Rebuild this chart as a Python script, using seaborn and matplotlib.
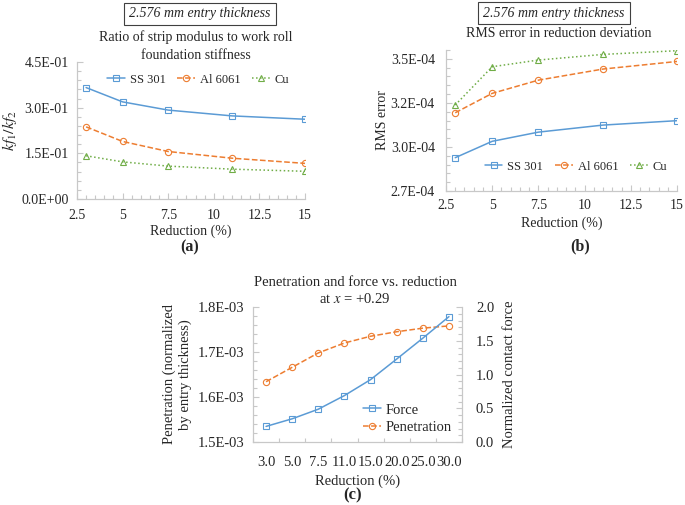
import numpy as np
import pandas as pd
import matplotlib.pyplot as plt
import seaborn as sns
from matplotlib.ticker import AutoMinorLocator, MultipleLocator, FormatStrFormatter, FixedLocator

# Data
reduction = [3, 5, 7.5, 11, 15]
ratio_ss301 = [0.366, 0.319, 0.292, 0.273, 0.262]
ratio_al6061 = [0.237, 0.189, 0.156, 0.134, 0.117]
ratio_cu = [0.142, 0.122, 0.108, 0.098, 0.091]

rms_ss301 = [2.939e-4, 3.032e-4, 3.084e-4, 3.124e-4, 3.149e-4]
rms_al6061 = [3.194e-4, 3.304e-4, 3.379e-4, 3.442e-4, 3.485e-4]
rms_cu = [3.238e-4, 3.455e-4, 3.493e-4, 3.525e-4, 3.546e-4]
rms_ticks = [2.75e-4, 3.0e-4, 3.25e-4, 3.5e-4]
rms_ticklabels = ["2.7E-04", "3.0E-04", "3.2E-04", "3.5E-04"]

reduction_c = ["3.0", "5.0", "7.5", "11.0", "15.0", "20.0", "25.0", "30.0"]
penetration = [1.634e-3, 1.666e-3, 1.698e-3, 1.720e-3, 1.735e-3, 1.745e-3, 1.753e-3, 1.758e-3]
force = [0.231, 0.344, 0.486, 0.688, 0.924, 1.229, 1.538, 1.857]

materials = ["SS 301", "Al 6061", "Cu"]
colors = ["#5B9BD5", "#ED7D31", "#70AD47"]
markers = ["s", "o", "^"]
dashes = ["-", "--", ":"]

sns.set_theme(style="ticks")
plt.rcParams["font.family"] = ["Liberation Serif", "DejaVu Serif"]
plt.rcParams["mathtext.fontset"] = "stix"
plt.rcParams["font.size"] = 10

W, H = 685, 505
FS = 10      # panels (a) and (b)
FSC = 10.5   # panel (c) is pasted a bit larger


def rect(l, t, r, b):
    return [l / W, 1 - b / H, (r - l) / W, (b - t) / H]


def ftext(x, y, s, **kw):
    fig.text(x / W, 1 - y / H, s, ha="center", va="center", **kw)


def style_ax(ax, spines=("left", "bottom"), fs=FS):
    for side in ["left", "right", "top", "bottom"]:
        ax.spines[side].set_visible(side in spines)
        ax.spines[side].set_color("#C8C8C8")
        ax.spines[side].set_linewidth(0.9)
    ax.tick_params(which="both", direction="in", color="#C8C8C8", labelsize=fs,
                   labelcolor="#262626", width=0.8)
    ax.tick_params(which="major", length=4, pad=8)
    ax.tick_params(which="minor", length=3)
    ax.grid(False)


def draw(ax, x, ys):
    for y, lab, c, m, ls in zip(ys, materials, colors, markers, dashes):
        sns.lineplot(x=x, y=y, ax=ax, color=c, marker=m, linestyle=ls, label=lab,
                     markersize=4.5, markerfacecolor="none", markeredgecolor=c,
                     markeredgewidth=0.8, linewidth=1.1)


leg_kw = dict(frameon=False, fontsize=9, handlelength=1.4, columnspacing=0.95,
              handletextpad=0.4, borderaxespad=0, ncol=3)

fig = plt.figure(figsize=(6.85, 5.05), dpi=100)

# (a)
axA = fig.add_axes(rect(77, 62, 305, 199))
draw(axA, reduction, [ratio_ss301, ratio_al6061, ratio_cu])
axA.set_xlim(2.5, 15)
axA.set_ylim(0, 0.45)
axA.xaxis.set_major_locator(MultipleLocator(2.5))
axA.xaxis.set_minor_locator(AutoMinorLocator(5))
axA.yaxis.set_major_locator(MultipleLocator(0.15))
axA.yaxis.set_minor_locator(AutoMinorLocator(5))
axA.xaxis.set_major_formatter(FormatStrFormatter("%g"))
axA.yaxis.set_major_formatter(FormatStrFormatter("%.1E"))
style_ax(axA)
axA.tick_params(axis="x", which="major", pad=7)
axA.tick_params(axis="y", which="major", pad=6)
axA.set_xlabel("Reduction (%)", fontsize=FS, labelpad=2)
axA.set_ylabel("$kf_1/kf_2$", fontsize=11.5, labelpad=2)
axA.legend(loc="upper left", bbox_to_anchor=(0.11, 0.95), **leg_kw)

# (b)
axB = fig.add_axes(rect(446, 50, 677, 191))
draw(axB, reduction, [rms_ss301, rms_al6061, rms_cu])
axB.set_xlim(2.5, 15)
axB.set_ylim(2.75e-4, 3.55e-4)
axB.xaxis.set_major_locator(MultipleLocator(2.5))
axB.xaxis.set_minor_locator(AutoMinorLocator(5))
axB.yaxis.set_major_locator(FixedLocator(rms_ticks))
axB.set_yticklabels(rms_ticklabels)
axB.yaxis.set_minor_locator(MultipleLocator(0.05e-4))
axB.xaxis.set_major_formatter(FormatStrFormatter("%g"))
style_ax(axB)
axB.tick_params(axis="x", which="major", pad=6)
axB.set_xlabel("Reduction (%)", fontsize=FS, labelpad=3)
axB.set_ylabel("RMS error", fontsize=FS, labelpad=1)
axB.legend(loc="lower left", bbox_to_anchor=(0.147, 0.094), **leg_kw)

# (c)
pos = np.arange(len(reduction_c))
axC = fig.add_axes(rect(253, 307, 462, 442))
axC2 = axC.twinx()
sns.lineplot(x=pos, y=force, ax=axC2, color=colors[0], marker="s", linestyle="-",
             label="Force", markersize=4.5, markerfacecolor="none",
             markeredgecolor=colors[0], markeredgewidth=0.8, linewidth=1.1)
sns.lineplot(x=pos, y=penetration, ax=axC, color=colors[1], marker="o", linestyle="--",
             label="Penetration", markersize=4.5, markerfacecolor="none",
             markeredgecolor=colors[1], markeredgewidth=0.8, linewidth=1.1)
axC.set_xlim(-0.5, len(reduction_c) - 0.5)
axC.set_ylim(1.5e-3, 1.8e-3)
axC2.set_ylim(0, 2.0)
axC.set_xticks(pos)
axC.set_xticklabels(reduction_c)
axC.xaxis.set_minor_locator(FixedLocator(np.arange(len(reduction_c) + 1) - 0.5))
axC.yaxis.set_major_locator(MultipleLocator(1e-4))
axC.yaxis.set_minor_locator(AutoMinorLocator(5))
axC.yaxis.set_major_formatter(FormatStrFormatter("%.1E"))
axC2.yaxis.set_major_locator(MultipleLocator(0.5))
axC2.yaxis.set_minor_locator(AutoMinorLocator(5))
axC2.yaxis.set_major_formatter(FormatStrFormatter("%.1f"))
style_ax(axC, spines=("left", "bottom"), fs=FSC)
style_ax(axC2, spines=("right",), fs=FSC)
axC.tick_params(axis="y", which="major", pad=6)
axC2.tick_params(axis="y", which="major", pad=10)
axC.tick_params(axis="x", which="major", length=0, pad=10)
axC.set_xlabel("Reduction (%)", fontsize=FSC, labelpad=4)
axC.set_ylabel("Penetration (normalized\nby entry thickness)", fontsize=FSC,
               labelpad=4, linespacing=1.3)
axC2.set_ylabel("Normalized contact force", fontsize=FSC, labelpad=6)
h1, l1 = axC2.get_legend_handles_labels()
h2, l2 = axC.get_legend_handles_labels()
axC2.get_legend().remove()
axC.get_legend().remove()
axC2.legend(h1 + h2, l1 + l2, loc="lower left", bbox_to_anchor=(0.5, 0.015),
            frameon=False, fontsize=10.5, handlelength=1.2, handletextpad=0.3,
            labelspacing=0.3, borderaxespad=0)

# titles and panel labels
box = dict(boxstyle="square,pad=0.35", fc="white", ec="#404040", lw=0.8)
ftext(200, 14, "2.576 mm entry thickness", style="italic", fontsize=FS, bbox=box)
ftext(196, 46, "Ratio of strip modulus to work roll\nfoundation stiffness",
      fontsize=FS, linespacing=1.45)
ftext(554, 13, "2.576 mm entry thickness", style="italic", fontsize=FS, bbox=box)
ftext(559, 33, "RMS error in reduction deviation", fontsize=FS)
ftext(355, 291, "Penetration and force vs. reduction\nat $x$ = +0.29",
      fontsize=FSC, linespacing=1.3)
ftext(190, 247, "(a)", fontsize=11.5, fontweight="bold")
ftext(580, 246, "(b)", fontsize=11.5, fontweight="bold")
ftext(353, 495, "(c)", fontsize=12, fontweight="bold")

plt.savefig("out.png", dpi=100)
